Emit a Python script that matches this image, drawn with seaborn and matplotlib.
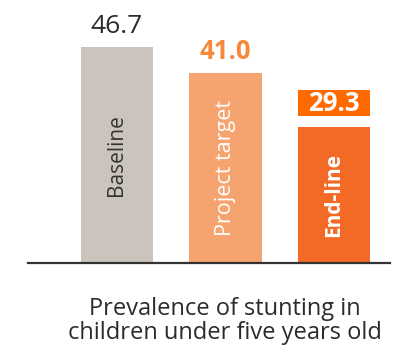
import matplotlib
matplotlib.use("Agg")
import matplotlib.pyplot as plt
import matplotlib.patches as mpatches
import seaborn as sns
import pandas as pd

categories = ["Baseline", "Project target", "End-line"]
values = [46.7, 41.0, 29.3]
bar_colors = ["#CBC4BC", "#F5A46F", "#F26A25"]
title_text = "Prevalence of stunting in\nchildren under five years old"

sns.set_theme(style="white")
plt.rcParams["font.family"] = ["Open Sans", "DejaVu Sans"]

df = pd.DataFrame({"category": categories, "value": values})

W, H, DPI = 398, 352, 100
fig = plt.figure(figsize=(W / DPI, H / DPI), dpi=DPI)
ax_left, ax_right, ax_bottom_px, ax_top_px = 28, 390, 263, 20
ax = fig.add_axes([ax_left / W, 1 - ax_bottom_px / H,
                   (ax_right - ax_left) / W, (ax_bottom_px - ax_top_px) / H])

sns.barplot(data=df, x="category", y="value", hue="category",
            palette=bar_colors, width=0.67, saturation=1, legend=False,
            ax=ax, linewidth=0)

ymax = 52.5
ax.set_ylim(0, ymax)
ax.set_xlim(-0.82, 2.516)
for s in ["top", "right", "left"]:
    ax.spines[s].set_visible(False)
ax.spines["bottom"].set_color("#333333")
ax.spines["bottom"].set_linewidth(1.6)
ax.set_xticks([])
ax.set_yticks([])
ax.set_xlabel("")
ax.set_ylabel("")

ax_h_px = ax_bottom_px - ax_top_px
upp = ymax / ax_h_px  # data units per pixel

# Category labels inside bars
cat_styles = [
    dict(color="#333333", fontweight="normal", fontsize=15),
    dict(color="white", fontweight="normal", fontsize=15.5),
    dict(color="white", fontweight="bold", fontsize=15),
]
for i, (cat, v) in enumerate(zip(categories, values)):
    ax.text(i, v * 0.5, cat, rotation=90, ha="center", va="center", **cat_styles[i])

# Value labels
ax.annotate(f"{values[0]:.1f}", xy=(0, values[0]), xytext=(0, 14),
            textcoords="offset pixels", ha="center", va="baseline",
            fontsize=19, color="#2b2b2b")
ax.annotate(f"{values[1]:.1f}", xy=(1, values[1]), xytext=(0, 14),
            textcoords="offset pixels", ha="center", va="baseline",
            fontsize=18.5, fontweight="bold", color="#F5883A")

# Boxed label for End-line
bar = ax.patches[2]
bx, bw = bar.get_x(), bar.get_width()
box_bottom = values[2] + 11 * upp
box_h = 26 * upp
ax.add_patch(mpatches.Rectangle((bx, box_bottom), bw, box_h,
                                facecolor="#FF6A00", edgecolor="none", clip_on=False))
ax.text(bx + bw / 2, box_bottom + box_h / 2, f"{values[2]:.1f}", ha="center",
        va="center", fontsize=18.5, fontweight="bold", color="white")

fig.text(225 / W, 1 - 321 / H, title_text, ha="center", va="center",
         fontsize=17, color="#2b2b2b", linespacing=1.0)

fig.savefig("out.png", dpi=DPI)
